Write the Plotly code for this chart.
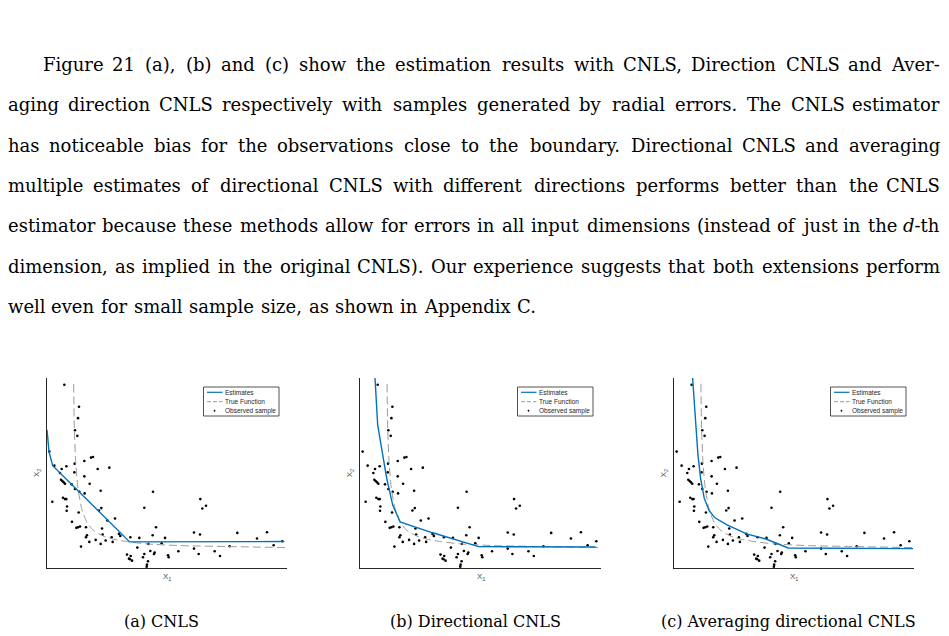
import plotly.graph_objects as go

W, H = 949, 636

# ---------------- data ----------------
obs_x = [0.52, 0.96, 0.93, 0.84, 0.91, 0.07, 1.38, 1.32, 1.12, 0.22, 0.58, 0.44, 0.83, 0.82, 1.52, 1.87,
         0.39, 1.12, 0.42, 0.46, 0.50, 0.54, 0.74, 1.28, 0.84, 0.97, 1.61, 1.13, 0.16, 0.48, 0.54, 0.58,
         3.18, 0.60, 0.59, 1.56, 1.63, 2.92, 4.60, 4.77, 4.66, 0.95, 0.75, 1.81, 2.04, 0.88, 0.93, 0.99,
         1.17, 1.65, 3.27, 2.16, 1.67, 1.20, 1.17, 1.46, 1.94, 1.97, 1.76, 1.27, 1.61, 1.02, 2.20, 2.50,
         2.77, 3.17, 3.54, 3.44, 4.41, 4.59, 5.71, 6.30, 6.60, 7.06, 6.80, 5.48, 5.03, 5.19, 4.55, 4.41,
         3.94, 3.63, 3.65, 3.23, 3.21, 3.10, 3.04, 2.92, 2.88, 2.71, 2.40, 2.51, 2.46, 2.55, 2.49, 3.03,
         3.00, 2.99]
obs_y = [5.48, 4.82, 4.48, 4.12, 3.95, 3.48, 3.32, 3.30, 3.20, 3.06, 3.04, 2.96, 3.12, 2.86, 2.96, 3.00,
         2.84, 2.74, 2.64, 2.60, 2.56, 2.52, 2.50, 2.52, 2.36, 2.28, 2.31, 2.23, 1.98, 2.10, 2.06, 2.06,
         2.28, 1.84, 1.71, 1.72, 1.79, 1.80, 2.06, 1.86, 1.78, 1.66, 1.38, 1.42, 1.48, 1.20, 1.22, 1.24,
         1.22, 1.18, 1.22, 1.02, 1.00, 0.98, 0.92, 0.84, 0.92, 0.78, 0.82, 0.78, 0.72, 0.64, 0.96, 0.92,
         0.90, 0.98, 0.90, 0.74, 1.06, 1.00, 1.05, 0.88, 1.07, 0.80, 0.68, 0.65, 0.50, 0.36, 0.42, 0.58,
         0.50, 0.38, 0.32, 0.46, 0.42, 0.51, 0.72, 0.42, 0.32, 0.61, 0.40, 0.36, 0.28, 0.22, 0.26, 0.20,
         0.10, 0.04]

true_x = [0.80, 0.82, 0.86, 0.93, 1.04, 1.20, 1.40, 1.70, 2.00, 2.40, 3.00, 4.00, 5.50, 7.15]
true_y = [5.50, 4.18, 3.18, 2.38, 1.78, 1.36, 1.12, 0.95, 0.86, 0.79, 0.72, 0.67, 0.64, 0.61]

est_a_x = [0.00, 0.06, 0.17, 2.48, 7.12]
est_a_y = [4.13, 3.48, 3.06, 0.78, 0.79]

est_b_x = [0.44, 0.47, 0.52, 0.62, 0.79, 0.97, 1.09, 1.19, 2.14, 2.74, 3.54, 7.04]
est_b_y = [5.68, 4.98, 4.28, 3.68, 2.68, 1.88, 1.58, 1.38, 1.06, 0.89, 0.64, 0.63]

est_c_x = [0.55, 0.60, 0.65, 0.71, 0.79, 0.90, 1.05, 1.22, 1.57, 2.17, 2.77, 3.42, 7.17]
est_c_y = [5.68, 4.98, 4.18, 3.38, 2.68, 2.08, 1.71, 1.50, 1.30, 1.02, 0.86, 0.60, 0.58]

estimates = [(est_a_x, est_a_y), (est_b_x, est_b_y), (est_c_x, est_c_y)]
captions = ["(a) CNLS", "(b) Directional CNLS", "(c) Averaging directional CNLS"]
legend_labels = ["Estimates", "True Function", "Observed sample"]

paragraph = [
    "Figure 21 (a), (b) and (c) show the estimation results with CNLS, Direction CNLS and Aver-",
    "aging direction CNLS respectively with samples generated by radial errors. The CNLS estimator",
    "has noticeable bias for the observations close to the boundary. Directional CNLS and averaging",
    "multiple estimates of directional CNLS with different directions performs better than the CNLS",
    "estimator because these methods allow for errors in all input dimensions (instead of just in the <i>d</i>-th",
    "dimension, as implied in the original CNLS). Our experience suggests that both extensions perform",
    "well even for small sample size, as shown in Appendix C.",
]

# ---------------- layout helpers ----------------
def px(x):
    return x / W

def py(y):
    return 1 - y / H

panels = [(47, 287), (360.3, 601), (674.3, 914)]
ptop, pbot = 378, 568
SERIF = "DejaVu Serif"

fig = go.Figure()
BLUE = "#0072BD"
GRAY = "#9a9a9a"
AX = "#262626"

for i, ((x0, x1), (ex, ey)) in enumerate(zip(panels, estimates)):
    n = "" if i == 0 else str(i + 1)
    xa, ya = "x" + n, "y" + n
    fig.add_trace(go.Scatter(x=obs_x, y=obs_y, mode="markers", xaxis=xa, yaxis=ya,
                             marker=dict(size=2.6, color="black"), showlegend=False, hoverinfo="skip"))
    fig.add_trace(go.Scatter(x=true_x, y=true_y, mode="lines", xaxis=xa, yaxis=ya,
                             line=dict(color=GRAY, width=1, dash="8px,4px", shape="spline", smoothing=0.6),
                             showlegend=False, hoverinfo="skip"))
    fig.add_trace(go.Scatter(x=ex, y=ey, mode="lines", xaxis=xa, yaxis=ya,
                             line=dict(color=BLUE, width=1.4), showlegend=False, hoverinfo="skip"))
    axis_common = dict(showgrid=False, zeroline=False, showticklabels=False, ticks="",
                       showline=True, linecolor=AX, linewidth=1, mirror=False, fixedrange=True)
    fig.update_layout(**{
        "xaxis" + n: dict(domain=[px(x0), px(x1)], range=[0, 7.2], anchor=ya, **axis_common),
        "yaxis" + n: dict(domain=[py(pbot), py(ptop)], range=[0, 5.68], anchor=xa, **axis_common),
    })

    cx = (x0 + x1) / 2
    # axis labels
    fig.add_annotation(x=px(cx), y=py(577), xref="paper", yref="paper", text="X<sub>1</sub>",
                       showarrow=False, font=dict(family="Liberation Sans", size=8, color="#505050"),
                       xanchor="center", yanchor="middle")
    fig.add_annotation(x=px(x0 - 10), y=py((ptop + pbot) / 2), xref="paper", yref="paper",
                       text="X<sub>2</sub>", textangle=-90, showarrow=False,
                       font=dict(family="Liberation Sans", size=8, color="#505050"),
                       xanchor="center", yanchor="middle")
    # caption
    fig.add_annotation(x=px(cx - 5.5), y=py(621), xref="paper", yref="paper", text=captions[i],
                       showarrow=False, font=dict(family=SERIF, size=16, color="black"),
                       xanchor="center", yanchor="middle", borderpad=0)

    # legend box
    lr = x1 - 8
    ll = lr - 75.5
    lt, lb = 387, 416
    fig.add_shape(type="rect", xref="paper", yref="paper", x0=px(ll), x1=px(lr), y0=py(lb), y1=py(lt),
                  line=dict(color=AX, width=0.8), fillcolor="white", layer="above")
    rows = [392.3, 401.7, 410.7]
    fig.add_shape(type="line", xref="paper", yref="paper", x0=px(ll + 3.5), x1=px(ll + 19),
                  y0=py(rows[0]), y1=py(rows[0]), line=dict(color=BLUE, width=1.2), layer="above")
    fig.add_shape(type="line", xref="paper", yref="paper", x0=px(ll + 3.5), x1=px(ll + 19),
                  y0=py(rows[1]), y1=py(rows[1]), line=dict(color=GRAY, width=1, dash="4px,2px"),
                  layer="above")
    fig.add_shape(type="circle", xref="paper", yref="paper", x0=px(ll + 10.3), x1=px(ll + 11.7),
                  y0=py(rows[2] + 0.7), y1=py(rows[2] - 0.7), fillcolor="black",
                  line=dict(color="black", width=0.5), layer="above")
    for r, lab in zip(rows, legend_labels):
        fig.add_annotation(x=px(ll + 20), y=py(r), xref="paper", yref="paper", text=lab,
                           showarrow=False, font=dict(family="Liberation Sans", size=6.5, color="#262626"),
                           xanchor="left", yanchor="middle", borderpad=0)

# ---------------- justified paragraph ----------------
DVS = {' ': 651, '(': 799, ')': 799, ',': 651, '-': 692, '.': 651, ':': 690,
       '0': 1303, '1': 1303, '2': 1303, '3': 1303, '4': 1303, '5': 1303, '6': 1303, '7': 1303,
       '8': 1303, '9': 1303,
       'A': 1479, 'B': 1561, 'C': 1497, 'D': 1696, 'E': 1487, 'F': 1413, 'G': 1655, 'H': 1778,
       'I': 862, 'J': 879, 'K': 1567, 'L': 1350, 'M': 2015, 'N': 1696, 'O': 1640, 'P': 1389,
       'Q': 1640, 'R': 1567, 'S': 1376, 'T': 1413, 'U': 1651, 'V': 1479, 'W': 2124, 'X': 1479,
       'Y': 1401, 'Z': 1399,
       'a': 1221, 'b': 1311, 'c': 1126, 'd': 1311, 'e': 1212, 'f': 758, 'g': 1311, 'h': 1319,
       'i': 655, 'j': 641, 'k': 1264, 'l': 655, 'm': 1966, 'n': 1319, 'o': 1235, 'p': 1311,
       'q': 1311, 'r': 979, 's': 1051, 't': 819, 'u': 1319, 'v': 1180, 'w': 1751, 'x': 1180,
       'y': 1180, 'z': 1075}
FS = 18

def width(word):
    plain = word.replace("<i>", "").replace("</i>", "")
    return sum(DVS.get(c, 1250) for c in plain) / 2048 * FS

baselines = [70.7, 111.0, 151.4, 191.8, 232.1, 272.5, 312.8]
left, right, indent = 7, 941, 35
for k, (txt, base) in enumerate(zip(paragraph, baselines)):
    yy = base - 0.346 * FS
    words = txt.split(" ")
    start = left + (indent if k == 0 else 0)
    ws = [width(w) for w in words]
    last_line = k == len(paragraph) - 1
    if not last_line:
        gap = max((right - start - sum(ws)) / (len(words) - 1), 3.0)
    else:
        gap = 0.37 * FS
    xcur = start
    for j, (w, wd) in enumerate(zip(words, ws)):
        if j == 0:
            xpos, anchor = xcur, "left"
        elif j == len(words) - 1 and not last_line:
            xpos, anchor = right, "right"
        else:
            xpos, anchor = xcur + wd / 2, "center"
        fig.add_annotation(x=px(xpos), y=py(yy), xref="paper", yref="paper", text=w, showarrow=False,
                           font=dict(family=SERIF, size=FS, color="black"),
                           xanchor=anchor, yanchor="middle", borderpad=0)
        xcur += wd + gap

fig.update_layout(width=W, height=H, margin=dict(l=0, r=0, t=0, b=0),
                  paper_bgcolor="white", plot_bgcolor="white", showlegend=False)

fig.write_html("out.html")
